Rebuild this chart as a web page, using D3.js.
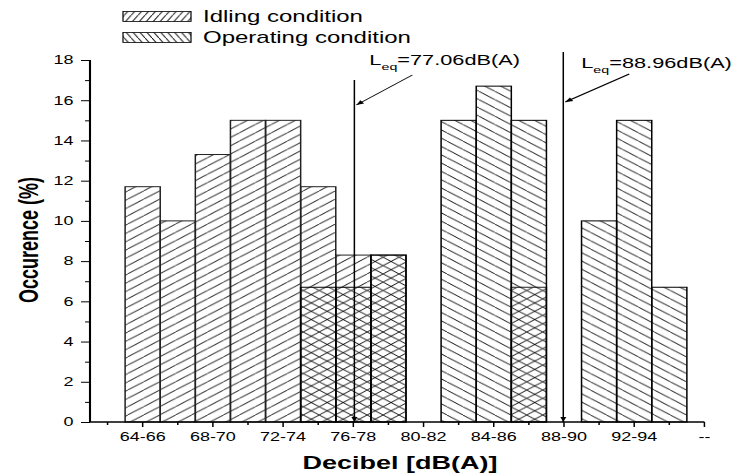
<!DOCTYPE html>
<html>
<head>
<meta charset="utf-8">
<script src="https://cdn.jsdelivr.net/npm/d3@7"></script>
<style>
  html, body { margin: 0; padding: 0; background: #fff; }
  svg { display: block; font-family: "Liberation Sans", Arial, Helvetica, sans-serif; }
</style>
</head>
<body>
<svg id="chart" width="736" height="473"></svg>
<script>
// ---- data ----
const categories = ["62-64", "64-66", "66-68", "68-70", "70-72", "72-74", "74-76", "76-78", "78-80",
                    "80-82", "82-84", "84-86", "86-88", "88-90", "90-92", "92-94", "94-96", "--"];
const labeledCategories = ["64-66", "68-70", "72-74", "76-78", "80-82", "84-86", "88-90", "92-94", "--"];
// occurrence (%) per class; null = no bar
const idling    = [null, 11.7, 10, 13.3, 15, 15, 11.7, 8.3, 8.3, null, null, null, 6.7, null, null, null, null, null];
const operating = [null, null, null, null, null, null, 6.7, 6.7, 8.3, null, 15, 16.7, 15, null, 10, 15, 6.7, null];
const seriesNames = ["Idling condition", "Operating condition"];
const yMajorTicks = [0, 2, 4, 6, 8, 10, 12, 14, 16, 18];
const yMinorTicks = [1, 3, 5, 7, 9, 11, 13, 15, 17];
const leqValues = [77.06, 88.96];
const leqTexts = ["=77.06dB(A)", "=88.96dB(A)"];

// ---- layout ----
const SX = 1.5;                 // horizontal stretch of the whole drawing
const nx = v => v / SX;         // page x -> drawing x
const plotLeft = 90, plotBottom = 422, plotTop = 60, step = 35.11;

const svg = d3.select("#chart");
const defs = svg.append("defs");
const root = svg.append("g").attr("transform", `scale(${SX},1)`);

const x = d3.scaleBand().domain(categories)
  .range([nx(plotLeft), nx(plotLeft + categories.length * step)]).padding(0);
const y = d3.scaleLinear().domain([0, 18]).range([plotBottom, plotTop]);
const bw = x.bandwidth();
// continuous dB position along the class axis
const db = d3.scaleLinear().domain([64, 96]).range([x("64-66"), x("94-96") + bw]);

// hatch patterns: dir +1 = "/", -1 = "\"
function hatch(id, dir, slope, vgap) {
  const s = slope * SX, h = vgap, w = h / s;
  const p = defs.append("pattern").attr("id", id)
    .attr("patternUnits", "userSpaceOnUse").attr("width", w).attr("height", h);
  const d = dir > 0
    ? `M${-1},${h + s} L${w + 1},${-s}`
    : `M${-1},${-s} L${w + 1},${h + s}`;
  p.append("path").attr("d", d).attr("fill", "none")
    .attr("stroke", "#000").attr("stroke-width", 0.7);
}
hatch("hIdle", 1, 0.52, 8.3);
hatch("hOper", -1, 0.52, 8.3);
hatch("lIdle", 1, 1.1, 7.6);
hatch("lOper", -1, 1.1, 7.6);

defs.append("marker").attr("id", "arrow")
  .attr("viewBox", "0 0 10 10").attr("refX", 10).attr("refY", 5)
  .attr("markerWidth", 6).attr("markerHeight", 5).attr("orient", "auto")
  .attr("markerUnits", "userSpaceOnUse")
  .append("path").attr("d", "M0,1 L10,5 L0,9 Z").attr("fill", "#000");

// ---- bars ----
function drawBars(values, fill, stroke) {
  const rows = categories.map((c, i) => ({ c, v: values[i] })).filter(d => d.v != null);
  root.append("g").selectAll("rect").data(rows).join("rect")
    .attr("x", d => x(d.c)).attr("width", bw)
    .attr("y", d => y(d.v)).attr("height", d => y(0) - y(d.v))
    .attr("fill", fill).attr("stroke", stroke).attr("stroke-width", 1);
}
drawBars(idling, "url(#hIdle)", "#222");
drawBars(operating, "url(#hOper)", "#000");

// ---- axes ----
const fontTick = 12;
root.append("g").attr("transform", `translate(${nx(plotLeft)},0)`)
  .call(d3.axisLeft(y).tickValues(yMajorTicks).tickSize(6).tickPadding(5).tickFormat(d3.format("d")));
root.append("g").attr("transform", `translate(${nx(plotLeft)},0)`)
  .call(d3.axisLeft(y).tickValues(yMinorTicks).tickSize(3.3).tickFormat(""));
root.append("g").attr("transform", `translate(0,${plotBottom})`)
  .call(d3.axisBottom(x).tickValues(labeledCategories).tickSize(5).tickPadding(5));
root.append("g").attr("transform", `translate(0,${plotBottom})`)
  .call(d3.axisBottom(x).tickValues(categories.filter(c => !labeledCategories.includes(c)))
    .tickSize(3).tickFormat(""));
root.selectAll(".domain").remove();
root.selectAll(".tick line").attr("stroke", "#000").attr("stroke-width", 1);
root.selectAll(".tick text").attr("fill", "#000")
  .attr("font-size", fontTick).attr("font-family", "Liberation Sans, Arial, sans-serif");

root.append("line").attr("x1", nx(plotLeft)).attr("x2", nx(plotLeft)).attr("y1", plotTop).attr("y2", plotBottom)
  .attr("stroke", "#000").attr("stroke-width", 1.4);
root.append("line").attr("x1", nx(plotLeft)).attr("x2", x("--") + bw / 2).attr("y1", plotBottom).attr("y2", plotBottom)
  .attr("stroke", "#000").attr("stroke-width", 1.6);

// axis titles
root.append("text").attr("transform", `translate(${nx(29)},240) rotate(-90)`)
  .attr("text-anchor", "middle").attr("dominant-baseline", "central")
  .attr("font-weight", "bold").attr("font-size", 18).text("Occurence (%)");
root.append("text").attr("x", nx(400)).attr("y", 469)
  .attr("text-anchor", "middle").attr("font-weight", "bold").attr("font-size", 18)
  .text("Decibel [dB(A)]");

// ---- equivalent level markers ----
const leqLineTop = [17, 18.4];
const leqLabelDx = [15, 18], leqLabelY = [65, 68];
const leqArrowFrom = [[58, 75], [66, 74]], leqArrowTo = [[2, 105], [2, 102]];
leqValues.forEach((v, i) => {
  const lx = db(v);
  root.append("line").attr("x1", lx).attr("x2", lx)
    .attr("y1", y(leqLineTop[i])).attr("y2", plotBottom)
    .attr("stroke", "#000").attr("stroke-width", 1).attr("marker-end", "url(#arrow)");
  root.append("line")
    .attr("x1", lx + nx(leqArrowFrom[i][0])).attr("y1", leqArrowFrom[i][1])
    .attr("x2", lx + nx(leqArrowTo[i][0])).attr("y2", leqArrowTo[i][1])
    .attr("stroke", "#000").attr("stroke-width", 0.9).attr("marker-end", "url(#arrow)");
  const t = root.append("text").attr("x", lx + nx(leqLabelDx[i])).attr("y", leqLabelY[i])
    .attr("font-size", 14.5);
  t.append("tspan").text("L");
  t.append("tspan").attr("font-size", 9.5).attr("dy", 5).text("eq");
  t.append("tspan").attr("dy", -5).text(leqTexts[i]);
});

// ---- legend ----
const legendFills = ["url(#lIdle)", "url(#lOper)"];
const legendBase = [22, 43];
seriesNames.forEach((name, i) => {
  root.append("rect").attr("x", nx(123)).attr("width", nx(68))
    .attr("y", legendBase[i] - 10.5).attr("height", 10)
    .attr("fill", legendFills[i]).attr("stroke", "#000").attr("stroke-width", 0.8);
  root.append("text").attr("x", nx(203)).attr("y", legendBase[i])
    .attr("font-size", 16).text(name);
});
</script>
</body>
</html>
